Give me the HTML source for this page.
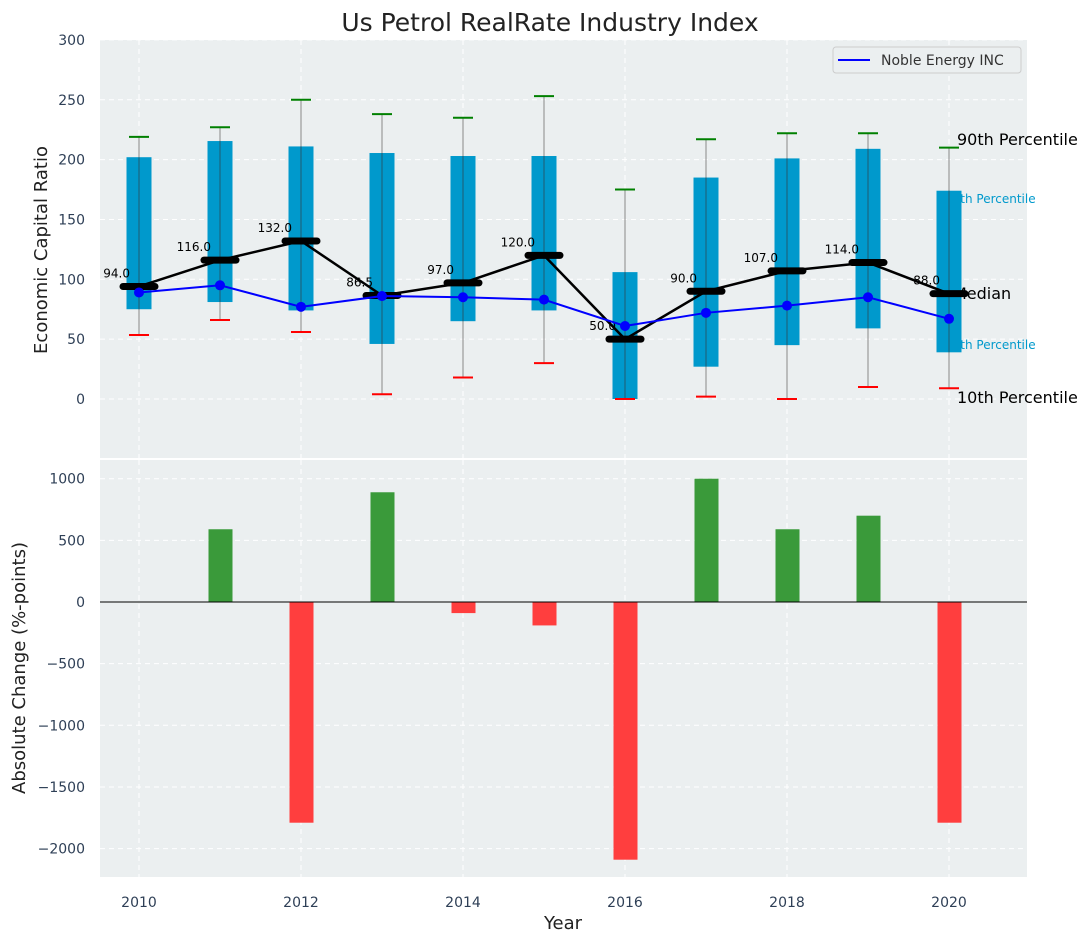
<!DOCTYPE html>
<html><head><meta charset="utf-8"><style>
body{margin:0;background:#fff;}
svg{display:block;font-family:"DejaVu Sans","Liberation Sans",sans-serif;}
</style></head><body>
<svg id="chart" width="1092" height="942" xmlns="http://www.w3.org/2000/svg"></svg>
<script>
const years=[2010,2011,2012,2013,2014,2015,2016,2017,2018,2019,2020];
const p10=[53.5,66,56,4,18,30,0,2,0,10,9];
const q25=[75,81,74,46,65,74,0,27,45,59,39];
const medians=[94,116,132,86.5,97,120,50,90,107,114,88];
const q75=[202,215.5,211,205.5,203,203,106,185,201,209,174];
const p90=[219,227,250,238,235,253,175,217,222,222,210];
const noble=[89,95,77,86,85,83,61,72,78,85,67];
const changes=[0,590,-1790,890,-90,-190,-2090,1000,590,700,-1790];
const topTicks=[0,50,100,150,200,250,300];
const botTicks=[-2000,-1500,-1000,-500,0,500,1000];
const xTicks=[2010,2012,2014,2016,2018,2020];

const NS="http://www.w3.org/2000/svg";
const svg=document.getElementById('chart');
const L=100,R=1027;
const x=v=>139+(v-2010)*81;
const yT=v=>399-v*1.197;
const yB=v=>602-v*0.1233;
function el(t,a,p){const e=document.createElementNS(NS,t);for(const k in a)e.setAttribute(k,a[k]);(p||svg).appendChild(e);return e;}
function tx(s,a){const e=el('text',a);e.textContent=s;return e;}

let e=el('rect',{x:L,y:40,width:R-L,height:418,fill:'#ebeff0'});

e=el('rect',{x:L,y:460,width:R-L,height:417,fill:'#ebeff0'});


topTicks.forEach(t=>{el('line',{x1:L,x2:R,y1:yT(t),y2:yT(t),stroke:'#fff','stroke-dasharray':'5,4','stroke-width':1});
 e=tx(t,{x:85,y:yT(t)+5,'text-anchor':'end','font-size':14,fill:'#2e3f56'});
 });
botTicks.forEach(t=>{el('line',{x1:L,x2:R,y1:yB(t),y2:yB(t),stroke:'#fff','stroke-dasharray':'5,4','stroke-width':1});
 e=tx(t<0?'\u2212'+(-t):t,{x:85,y:yB(t)+5,'text-anchor':'end','font-size':14,fill:'#2e3f56'});
 });
xTicks.forEach(t=>{el('line',{x1:x(t),x2:x(t),y1:40,y2:458,stroke:'#fff','stroke-dasharray':'5,4'});
 el('line',{x1:x(t),x2:x(t),y1:460,y2:877,stroke:'#fff','stroke-dasharray':'5,4'});
 e=tx(t,{x:x(t),y:907,'text-anchor':'middle','font-size':14,fill:'#2e3f56'});
 });

[['90th Percentile',957,145,16,'#000'],['75th Percentile',945,203,12,'#0099cc'],['Median',953,299,16,'#000'],['25th Percentile',945,349,12,'#0099cc'],['10th Percentile',957,403,16,'#000']].forEach(a=>{
 e=tx(a[0],{x:a[1],y:a[2],'font-size':a[3],fill:a[4]});
 });

years.forEach((yr,i)=>{
 const cx=x(yr);
 e=el('line',{x1:cx,x2:cx,y1:yT(p90[i]),y2:yT(p10[i]),stroke:'#888','stroke-width':1});
 
 e=el('rect',{x:cx-12.5,y:yT(q75[i]),width:25,height:yT(q25[i])-yT(q75[i]),fill:'#0099cc'});
 
 el('line',{x1:cx,x2:cx,y1:yT(q75[i]),y2:yT(q25[i]),stroke:'#333','stroke-width':1,'stroke-opacity':0.6});
 e=el('line',{x1:cx-10,x2:cx+10,y1:yT(p90[i]),y2:yT(p90[i]),stroke:'green','stroke-width':2});
 
 e=el('line',{x1:cx-10,x2:cx+10,y1:yT(p10[i]),y2:yT(p10[i]),stroke:'red','stroke-width':2});
 
});
e=el('polyline',{points:years.map((y,i)=>x(y)+','+yT(medians[i])).join(' '),fill:'none',stroke:'#000','stroke-width':2.5});

years.forEach((yr,i)=>{
 e=el('line',{x1:x(yr)-16,x2:x(yr)+16,y1:yT(medians[i]),y2:yT(medians[i]),stroke:'#000','stroke-width':7,'stroke-linecap':'round'});
 
 e=tx(medians[i].toFixed(1),{x:x(yr)-9,y:yT(medians[i])-9,'text-anchor':'end','font-size':12,fill:'#000'});
 
});
e=el('polyline',{points:years.map((y,i)=>x(y)+','+yT(noble[i])).join(' '),fill:'none',stroke:'#0000ff','stroke-width':2});

years.forEach((yr,i)=>{e=el('circle',{cx:x(yr),cy:yT(noble[i]),r:5,fill:'#0000ff'});
 });

years.forEach((yr,i)=>{const v=changes[i];if(!v)return;
 e=el('rect',{x:x(yr)-11.5,y:Math.min(yB(v),yB(0)),width:24,height:Math.abs(yB(v)-yB(0)),fill:v>0?'#3a9a3a':'#ff3e3e'});
 });
el('line',{x1:L,x2:R,y1:yB(0),y2:yB(0),stroke:'#000','stroke-width':1});

const lg=el('g',{});
el('rect',{x:833,y:47,width:188,height:26,rx:3,fill:'#ebeff0',stroke:'#ccc'},lg);
el('line',{x1:838,x2:870,y1:60,y2:60,stroke:'#0000ff','stroke-width':2},lg);
e=el('text',{x:881,y:65,'font-size':14,fill:'#333'},lg);e.textContent='Noble Energy INC';


e=tx('Us Petrol RealRate Industry Index',{x:550,y:31,'text-anchor':'middle','font-size':25,fill:'#222'});

e=tx('Economic Capital Ratio',{x:0,y:0,'text-anchor':'middle','font-size':18,fill:'#222',transform:'translate(47,250) rotate(-90)'});

e=tx('Absolute Change (%-points)',{x:0,y:0,'text-anchor':'middle','font-size':18,fill:'#222',transform:'translate(25,668) rotate(-90)'});

e=tx('Year',{x:563,y:929,'text-anchor':'middle','font-size':18,fill:'#222'});

</script>
</body></html>
